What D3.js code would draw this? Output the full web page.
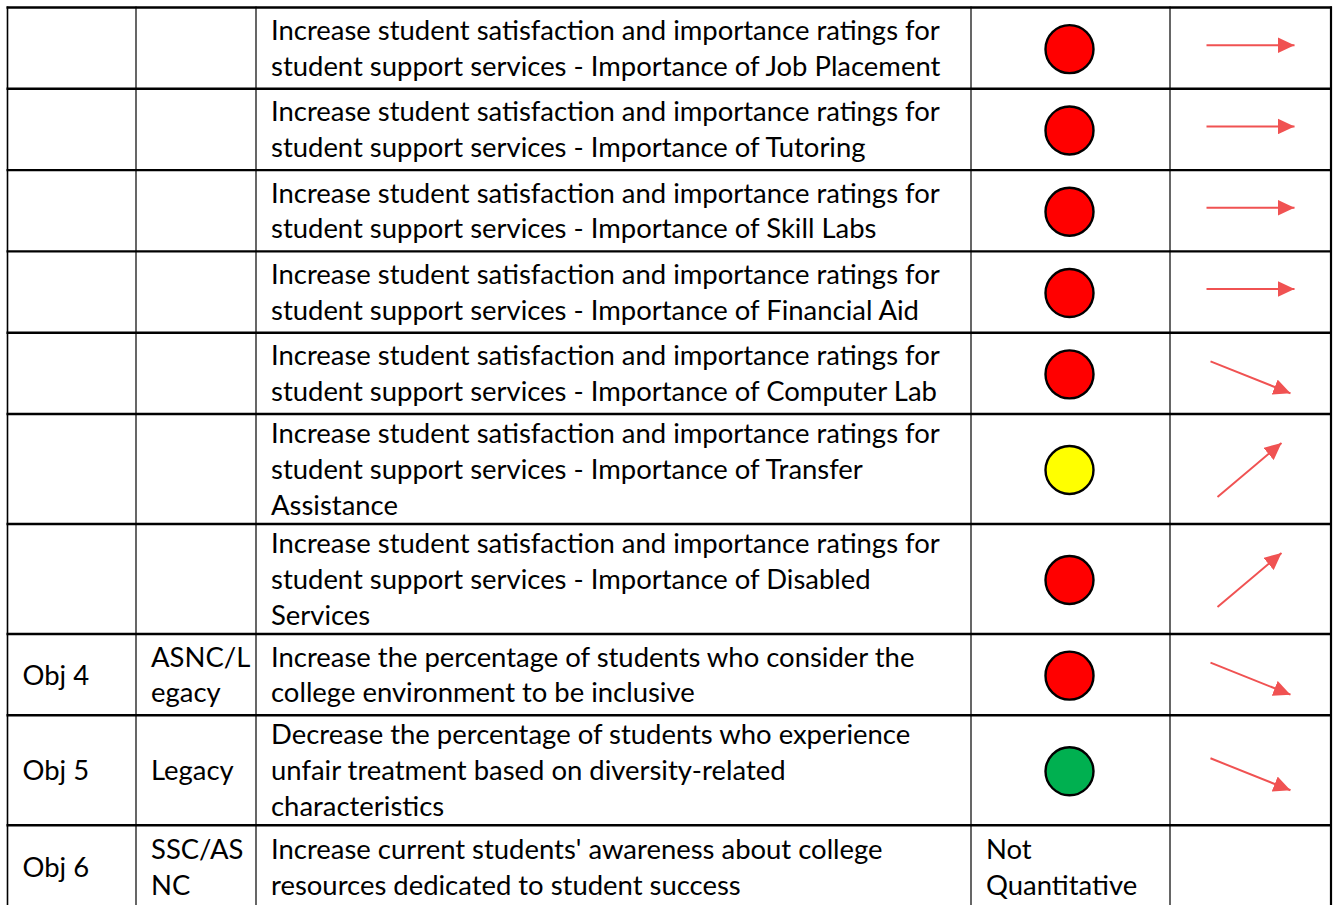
<!DOCTYPE html>
<html>
<head>
<meta charset="utf-8">
<script src="https://cdn.jsdelivr.net/npm/d3@7/dist/d3.min.js"></script>
<style>
  html, body { margin: 0; padding: 0; background: #fff; overflow: hidden; }
  svg { display: block; }
</style>
</head>
<body>
<svg id="chart" width="1336" height="905"></svg>
<script>
// ---------------- data ----------------
const objectives = ["", "", "", "", "", "", "", "Obj 4", "Obj 5", "Obj 6"];
const sources = [[], [], [], [], [], [], [], ["ASNC/L", "egacy"], ["Legacy"], ["SSC/AS", "NC"]];
const descriptions = [
  ["Increase student satisfaction and importance ratings for", "student support services - Importance of Job Placement"],
  ["Increase student satisfaction and importance ratings for", "student support services - Importance of Tutoring"],
  ["Increase student satisfaction and importance ratings for", "student support services - Importance of Skill Labs"],
  ["Increase student satisfaction and importance ratings for", "student support services - Importance of Financial Aid"],
  ["Increase student satisfaction and importance ratings for", "student support services - Importance of Computer Lab"],
  ["Increase student satisfaction and importance ratings for", "student support services - Importance of Transfer", "Assistance"],
  ["Increase student satisfaction and importance ratings for", "student support services - Importance of Disabled", "Services"],
  ["Increase the percentage of students who consider the", "college environment to be inclusive"],
  ["Decrease the percentage of students who experience", "unfair treatment based on diversity-related", "characteristics"],
  ["Increase current students' awareness about college", "resources dedicated to student success"]
];
const statuses = ["red", "red", "red", "red", "red", "yellow", "red", "red", "green", "Not Quantitative"];
const trends = ["flat", "flat", "flat", "flat", "down", "up", "up", "down", "down", null];

// ---------------- layout / style ----------------
const svg = d3.select("#chart");
const W = 1336, H = 905;
const colEdges = [7.5, 136, 256, 971, 1170, 1331];
const top0 = 7.5;
const lineGap = 35.7;
const pad = 15;
const fontFamily = "Lato, 'Open Sans', 'Noto Sans', sans-serif";

// fit font size to the reference text width
const probe = svg.append("text").attr("font-family", fontFamily).attr("font-size", 100)
  .text("Increase student satisfaction and importance ratings for");
const probeW = probe.node().getComputedTextLength();
probe.remove();
const fontSize = 100 * 669 / probeW;

const nRows = objectives.length;
const rowLines = d3.range(nRows).map(i => Math.max(descriptions[i].length, sources[i].length, 1));
const rowH = rowLines.map((n, i) => i === nRows - 1 ? 84 : (n >= 3 ? 110 : 81.3));
const rowTop = [];
let acc = top0;
rowH.forEach(h => { rowTop.push(acc); acc += h; });

const rows = d3.range(nRows).map(i => ({
  i, top: rowTop[i], h: rowH[i], mid: rowTop[i] + rowH[i] / 2,
  obj: objectives[i], src: sources[i], desc: descriptions[i],
  status: statuses[i], trend: trends[i]
}));

const colorScale = d3.scaleOrdinal()
  .domain(["red", "yellow", "green"])
  .range(["#FF0000", "#FFFF00", "#00B050"]);

const arrowColor = "#F05252";
const defs = svg.append("defs");
defs.append("marker")
  .attr("id", "head")
  .attr("markerUnits", "userSpaceOnUse")
  .attr("viewBox", "0 0 17 16")
  .attr("markerWidth", 17).attr("markerHeight", 16)
  .attr("refX", 17).attr("refY", 8)
  .attr("orient", "auto")
  .append("path").attr("d", "M0,0 L17,8 L0,16 Z").attr("fill", arrowColor);

const arrowShapes = {
  flat: [[-44, -3], [44, -3]],
  down: [[-40, -12], [40, 20]],
  up:   [[-33, 28], [31, -26]]
};

// ---------------- text ----------------
function addLines(g, x, mid, lines) {
  const n = lines.length;
  lines.forEach((t, k) => {
    g.append("text")
      .attr("x", x)
      .attr("y", mid + (k - (n - 1) / 2) * lineGap)
      .attr("dy", "0.36em")
      .attr("font-family", fontFamily)
      .attr("font-size", fontSize)
      .attr("fill", "#000")
      .text(t);
  });
}

const gRows = svg.append("g");
rows.forEach(r => {
  const g = gRows.append("g");
  if (r.obj) addLines(g, colEdges[0] + pad, r.mid, [r.obj]);
  if (r.src.length) addLines(g, colEdges[1] + pad, r.mid, r.src);
  addLines(g, colEdges[2] + pad, r.mid, r.desc);

  const cx4 = (colEdges[3] + colEdges[4]) / 2 - 1;
  if (colorScale.domain().includes(r.status)) {
    g.append("circle")
      .attr("cx", cx4).attr("cy", r.mid + 1)
      .attr("r", 24)
      .attr("fill", colorScale(r.status))
      .attr("stroke", "#000").attr("stroke-width", 2.4);
  } else {
    addLines(g, colEdges[3] + pad, r.mid, r.status.split(" "));
  }

  if (r.trend) {
    const cx5 = (colEdges[4] + colEdges[5]) / 2;
    const s = arrowShapes[r.trend];
    g.append("line")
      .attr("x1", cx5 + s[0][0]).attr("y1", r.mid + s[0][1])
      .attr("x2", cx5 + s[1][0]).attr("y2", r.mid + s[1][1])
      .attr("stroke", arrowColor).attr("stroke-width", 2)
      .attr("marker-end", "url(#head)");
  }
});

// ---------------- grid ----------------
const tableBottom = acc;
const grid = svg.append("g");
// vertical lines
colEdges.forEach((x, k) => {
  grid.append("line")
    .attr("x1", x).attr("x2", x).attr("y1", top0 - 1).attr("y2", tableBottom)
    .attr("stroke", k === 4 ? "#666" : "#000")
    .attr("stroke-width", k === 0 ? 1.6 : (k === 5 ? 2.2 : (k === 4 ? 2 : 1.2)));
});
// horizontal lines
const hLines = rowTop.concat([tableBottom]);
hLines.forEach(y => {
  grid.append("line")
    .attr("x1", colEdges[0] - 1).attr("x2", colEdges[5] + 1)
    .attr("y1", y).attr("y2", y)
    .attr("stroke", "#000").attr("stroke-width", 2.4);
});
</script>
</body>
</html>
